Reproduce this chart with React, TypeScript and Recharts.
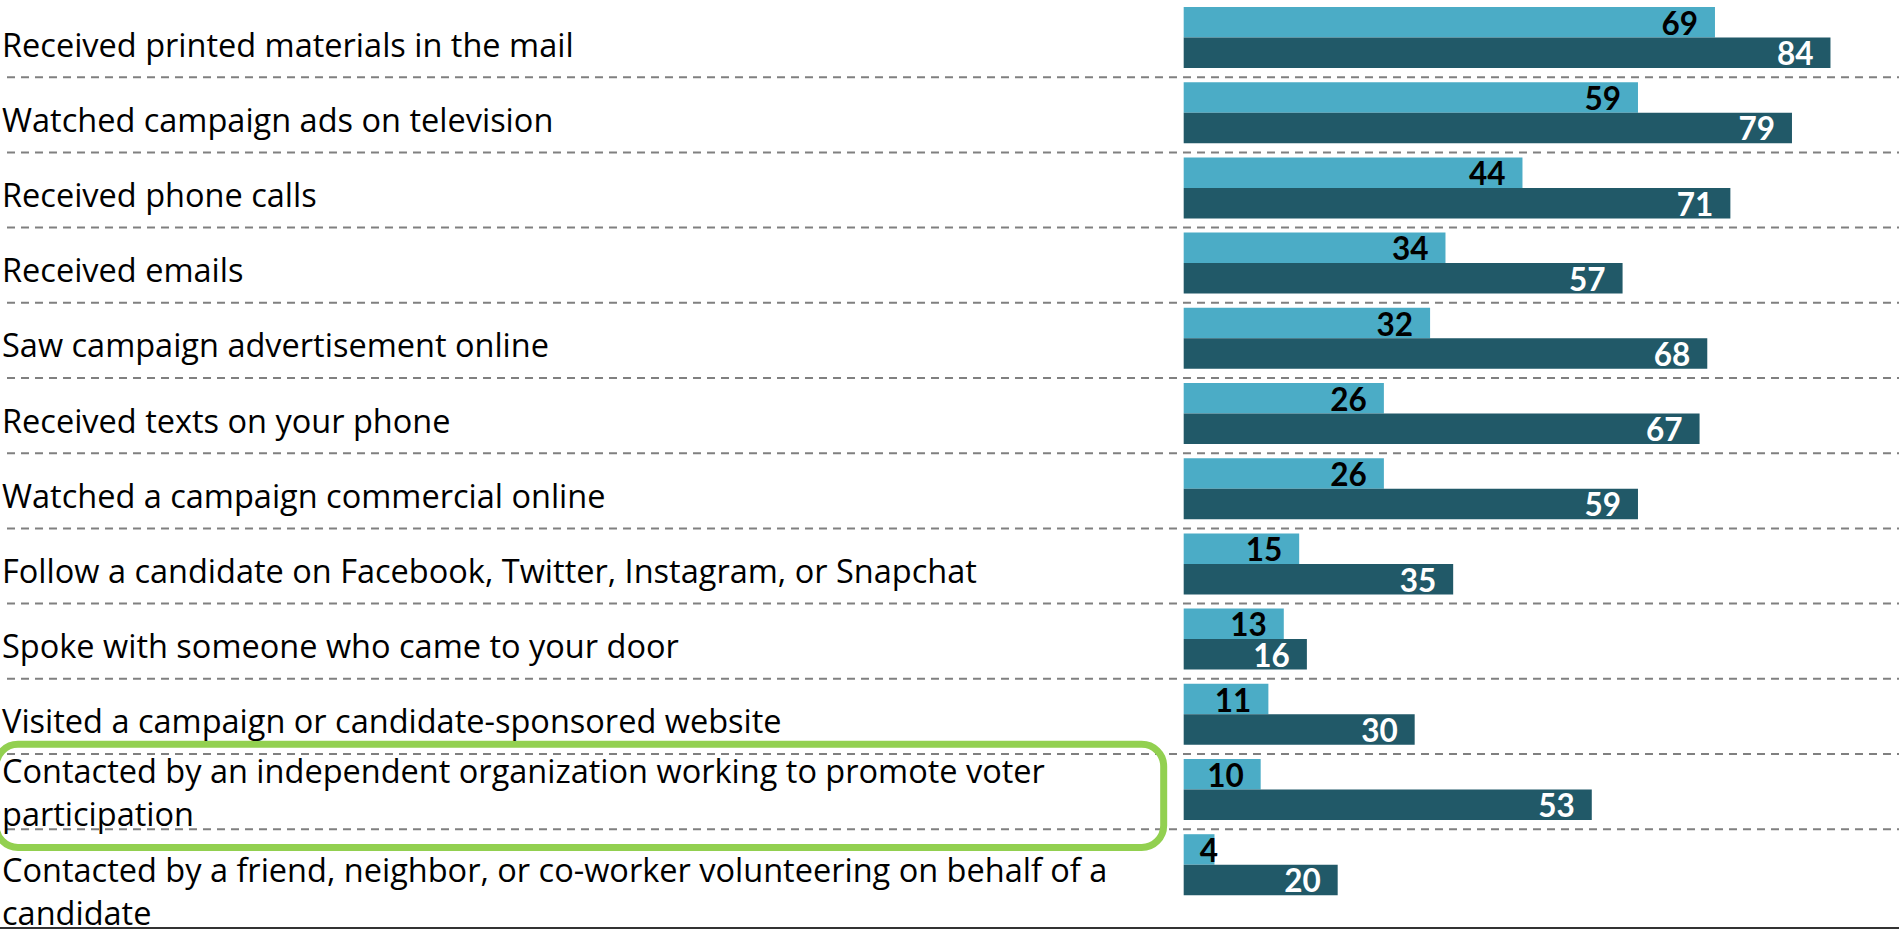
import React from 'react';
import { BarChart, Bar, XAxis, YAxis, CartesianGrid, ReferenceArea, LabelList } from 'recharts';

const CATEGORIES = [
  'Received printed materials in the mail',
  'Watched campaign ads on television',
  'Received phone calls',
  'Received emails',
  'Saw campaign advertisement online',
  'Received texts on your phone',
  'Watched a campaign commercial online',
  'Follow a candidate on Facebook, Twitter, Instagram, or Snapchat',
  'Spoke with someone who came to your door',
  'Visited a campaign or candidate-sponsored website',
  'Contacted by an independent organization working to promote voter participation',
  'Contacted by a friend, neighbor, or co-worker volunteering on behalf of a candidate',
];
const SERIES_LIGHT = [69, 59, 44, 34, 32, 26, 26, 15, 13, 11, 10, 4];
const SERIES_DARK = [84, 79, 71, 57, 68, 67, 59, 35, 16, 30, 53, 20];
const HIGHLIGHT_INDEX = 10;

const data = CATEGORIES.map((label, i) => ({ label, light: SERIES_LIGHT[i], dark: SERIES_DARK[i] }));

const W = 1899;
const H = 930;
const X_DOMAIN: [number, number] = [-153.6, 92.9];
const LABEL_FONT = '"Open Sans", Lato, sans-serif';
const VALUE_FONT = 'Lato, "Open Sans", sans-serif';
const LABEL_SIZE = 32.5;
const VALUE_SIZE = 31.5;
const WRAP_WIDTH = 1150;
const LINE_HEIGHT = 43.5;
const LIGHT = '#4BACC6';
const DARK = '#215968';

let measureCtx: CanvasRenderingContext2D | null = null;
const measure = (s: string) => {
  if (!measureCtx) {
    const c = document.createElement('canvas');
    measureCtx = c.getContext('2d');
  }
  if (!measureCtx) return s.length * LABEL_SIZE * 0.5;
  measureCtx.font = `${LABEL_SIZE}px ${LABEL_FONT}`;
  return measureCtx.measureText(s).width;
};

const wrapWords = (text: string) => {
  const words = text.split(' ');
  const lines: string[] = [];
  let cur = '';
  words.forEach((w) => {
    const next = cur ? `${cur} ${w}` : w;
    if (cur && measure(next) > WRAP_WIDTH) {
      lines.push(cur);
      cur = w;
    } else {
      cur = next;
    }
  });
  if (cur) lines.push(cur);
  return lines;
};

const CategoryTick = (props: any) => {
  const { payload, index } = props;
  const cy = Number(props.y);
  const text = String(payload.value);
  const lines = wrapWords(text);
  const last = index === CATEGORIES.length - 1;
  const firstBaseline = lines.length === 1 ? cy + 19 : cy - 7 + (last ? 24 : 0);
  return (
    <text x={2} y={firstBaseline} textAnchor="start" fill="#000" fontFamily={LABEL_FONT} fontSize={LABEL_SIZE}>
      {lines.map((ln, i) => (
        <tspan key={i} x={2} y={firstBaseline + i * LINE_HEIGHT}>
          {ln}
        </tspan>
      ))}
    </text>
  );
};

const valueLabel = (color: string) => (props: any) => {
  const x = Number(props.x);
  const y = Number(props.y);
  const width = Number(props.width);
  const height = Number(props.height);
  const { value } = props;
  const textW = String(value).length * 18;
  let tx = x + width - 17;
  let anchor: 'end' | 'start' = 'end';
  if (width - 17 < textW) {
    tx = x + 16;
    anchor = 'start';
  }
  return (
    <text
      x={tx}
      y={y + height / 2 + 12.5}
      textAnchor={anchor}
      fill={color}
      fontFamily={VALUE_FONT}
      fontSize={VALUE_SIZE}
      fontWeight={700}
    >
      {value}
    </text>
  );
};

const HighlightBox = (props: any) => {
  const x = Number(props.x);
  const y = Number(props.y);
  const width = Number(props.width);
  const height = Number(props.height);
  return (
    <rect
      x={x - 5}
      y={y - 7.7}
      width={width - 15}
      height={height + 28}
      rx={22}
      ry={22}
      fill="none"
      stroke="#92D050"
      strokeWidth={7}
    />
  );
};

const rowBoundaries = (args: any) => {
  const { yAxis, offset } = args;
  const n = CATEGORIES.length;
  const scale = yAxis && typeof yAxis.scale === 'function' ? yAxis.scale : null;
  return CATEGORIES.slice(1).map((c, i) => {
    const v = scale ? scale(c) : undefined;
    const base = typeof v === 'number' && !isNaN(v) ? v : offset.top + ((i + 1) * offset.height) / n;
    return base + 2;
  });
};

export default function App() {
  return (
    <div style={{ position: 'absolute', left: 0, top: 0, width: W, height: H, background: '#fff', overflow: 'hidden' }}>
      <BarChart
        width={W}
        height={H}
        data={data}
        layout="vertical"
        margin={{ top: 0, right: 0, bottom: 27.6, left: 0 }}
        barGap={0}
      >
        <CartesianGrid
          vertical={false}
          stroke="#808080"
          strokeWidth={2}
          strokeDasharray="8 6"
          strokeDashoffset={8}
          horizontalCoordinatesGenerator={rowBoundaries}
        />
        <XAxis type="number" domain={X_DOMAIN} allowDataOverflow hide />
        <YAxis
          type="category"
          dataKey="label"
          width={1}
          axisLine={false}
          tickLine={false}
          interval={0}
          tick={<CategoryTick />}
        />
        <Bar dataKey="light" fill={LIGHT} barSize={30.5} isAnimationActive={false}>
          <LabelList dataKey="light" content={valueLabel('#000')} />
        </Bar>
        <Bar dataKey="dark" fill={DARK} barSize={30.5} isAnimationActive={false}>
          <LabelList dataKey="dark" content={valueLabel('#fff')} />
        </Bar>
        <ReferenceArea
          y1={CATEGORIES[HIGHLIGHT_INDEX]}
          y2={CATEGORIES[HIGHLIGHT_INDEX]}
          x1={X_DOMAIN[0]}
          x2={0}
          shape={<HighlightBox />}
        />
      </BarChart>
      <div style={{ position: 'absolute', left: 0, top: 927, width: W, height: 2, background: '#333' }} />
    </div>
  );
}
